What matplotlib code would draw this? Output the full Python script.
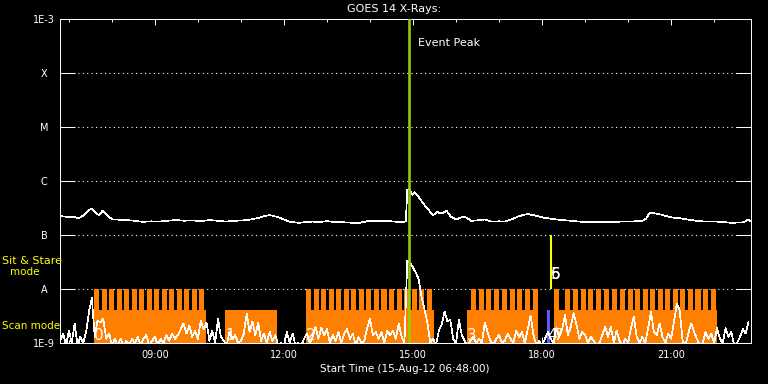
import datetime as dt
import matplotlib
matplotlib.use("Agg")
import matplotlib.pyplot as plt
import matplotlib.dates as mdates
from matplotlib.ticker import NullLocator


def hm(s):
    h, m = s.split(":")
    return dt.datetime(2012, 8, 15, int(h), int(m))


t_start, t_end = "06:48", "22:51"

# GOES 14 long channel (1-8 A), W/m^2
long_times = ["06:48", "06:55", "07:01", "07:08", "07:14", "07:21", "07:27", "07:31", "07:35", "07:38",
              "07:42", "07:47", "07:51", "07:54", "08:01", "08:10", "08:20", "08:30", "08:43", "08:55",
              "09:06", "09:18", "09:29", "09:41", "09:53", "10:05", "10:16", "10:28", "10:39", "10:50",
              "11:02", "11:14", "11:26", "11:33", "11:40", "11:46", "11:53", "12:00", "12:08", "12:21",
              "12:30", "12:40", "12:50", "12:59", "13:10", "13:22", "13:33", "13:45", "13:52", "13:59",
              "14:10", "14:22", "14:34", "14:46", "14:50", "14:52", "14:55", "14:57", "14:59", "15:02",
              "15:06", "15:11", "15:16", "15:20", "15:25", "15:28", "15:31", "15:34", "15:37", "15:41",
              "15:44", "15:47", "15:50", "15:53", "16:00", "16:06", "16:12", "16:16", "16:21", "16:30",
              "16:40", "16:49", "17:00", "17:08", "17:17", "17:26", "17:33", "17:40", "17:47", "17:54",
              "18:03", "18:13", "18:27", "18:41", "18:52", "19:04", "19:16", "19:27", "19:38", "19:50",
              "20:02", "20:14", "20:20", "20:25", "20:29", "20:32", "20:39", "20:46", "20:53", "21:00",
              "21:12", "21:23", "21:35", "21:47", "21:58", "22:10", "22:24", "22:35", "22:42", "22:46",
              "22:50"]
long_flux = [2.25e-7, 2.2e-7, 2.13e-7, 2.15e-7, 2.07e-7, 2.35e-7, 2.8e-7, 3.1e-7, 2.8e-7, 2.52e-7,
             2.35e-7, 2.82e-7, 2.5e-7, 2.25e-7, 1.95e-7, 1.93e-7, 1.9e-7, 1.85e-7, 1.76e-7, 1.8e-7,
             1.78e-7, 1.85e-7, 1.9e-7, 1.85e-7, 1.87e-7, 1.82e-7, 1.9e-7, 1.84e-7, 1.78e-7, 1.84e-7,
             1.87e-7, 1.95e-7, 2.1e-7, 2.25e-7, 2.35e-7, 2.25e-7, 2.13e-7, 1.95e-7, 1.76e-7, 1.69e-7,
             1.74e-7, 1.78e-7, 1.75e-7, 1.81e-7, 1.76e-7, 1.73e-7, 1.7e-7, 1.69e-7, 1.76e-7, 1.84e-7,
             1.82e-7, 1.84e-7, 1.78e-7, 1.73e-7, 1.8e-7, 7.0e-7, 7.1e-7, 6.4e-7, 5.6e-7, 6.3e-7,
             5.5e-7, 4.45e-7, 3.6e-7, 3.1e-7, 2.6e-7, 2.35e-7, 2.5e-7, 2.7e-7, 2.55e-7, 2.52e-7,
             2.7e-7, 2.82e-7, 2.45e-7, 2.19e-7, 1.95e-7, 2.1e-7, 2.19e-7, 2.05e-7, 1.84e-7, 1.88e-7,
             1.95e-7, 1.78e-7, 1.8e-7, 1.78e-7, 1.95e-7, 2.19e-7, 2.35e-7, 2.45e-7, 2.35e-7, 2.25e-7,
             2.1e-7, 2.0e-7, 1.9e-7, 1.84e-7, 1.78e-7, 1.73e-7, 1.75e-7, 1.76e-7, 1.75e-7, 1.78e-7,
             1.78e-7, 1.81e-7, 1.85e-7, 2.0e-7, 2.45e-7, 2.6e-7, 2.5e-7, 2.4e-7, 2.25e-7, 2.13e-7,
             2.05e-7, 1.95e-7, 1.85e-7, 1.78e-7, 1.79e-7, 1.76e-7, 1.69e-7, 1.71e-7, 1.73e-7, 1.95e-7,
             1.85e-7]

# short channel (0.5-4 A), one value every 4 minutes from 06:48, in units of 1e-9 W/m^2
short_step = 4
short_flux = [1.1, 1.5, 0.9, 1.7, 1.0, 2.3, 0.9, 1.3, 1.0, 1.6,
              3.8, 6.8, 1.3, 2.6, 2.4, 2.8, 1.2, 1.5, 0.9, 1.2,
              0.9, 1.2, 0.9, 1.1, 0.9, 1.2, 1.0, 1.3, 0.9, 1.2,
              1.4, 0.9, 1.1, 1.3, 0.9, 1.2, 1.0, 1.4, 1.1, 1.5,
              1.2, 1.4, 1.8, 2.3, 1.5, 2.1, 1.3, 1.7, 1.2, 2.6,
              1.8, 2.4, 1.1, 1.7, 1.0, 2.8, 1.3, 1.1, 0.9, 1.6,
              1.2, 1.4, 1.0, 1.1, 1.5, 3.5, 1.6, 2.5, 1.4, 2.4,
              1.1, 1.5, 1.0, 1.6, 1.1, 1.4, 0.9, 1.0, 0.9, 1.6,
              1.0, 1.5, 0.9, 1.0, 0.9, 1.2, 1.5, 1.0, 1.3, 2.0,
              1.2, 1.9, 1.4, 1.8, 1.0, 1.4, 1.1, 1.6, 1.0, 1.5,
              1.8, 1.2, 1.5, 0.9, 1.3, 1.0, 1.1, 1.9, 2.8, 1.4,
              1.6, 1.2, 1.6, 1.0, 1.7, 1.4, 1.7, 1.2, 2.3, 1.3,
              1.0, 34, 30, 25, 20, 15, 7.0, 4.2, 2.4, 1.0,
              1.2, 0.9, 1.7, 2.2, 3.8, 2.5, 2.7, 1.2, 1.0, 2.7,
              1.4, 1.1, 0.9, 1.1, 1.3, 1.0, 1.2, 1.0, 2.4, 1.6,
              1.1, 0.9, 1.2, 1.4, 1.0, 1.1, 1.5, 1.2, 1.0, 1.7,
              1.3, 1.6, 1.0, 1.8, 3.2, 1.4, 0.9, 1.1, 0.9, 1.2,
              1.6, 1.2, 1.0, 1.9, 1.3, 1.8, 3.3, 1.4, 2.0, 3.6,
              2.2, 1.2, 1.6, 1.4, 1.0, 1.3, 1.1, 0.9, 1.0, 1.4,
              2.0, 1.3, 2.0, 1.0, 1.7, 1.1, 0.9, 1.2, 1.0, 1.9,
              3.1, 1.3, 1.0, 1.3, 1.0, 1.9, 3.8, 1.6, 1.4, 2.3,
              1.3, 1.0, 1.5, 1.2, 2.5, 5.3, 4.0, 1.1, 0.9, 1.5,
              2.3, 1.6, 1.2, 0.9, 1.0, 1.6, 1.2, 1.5, 1.0, 1.9,
              1.2, 1.0, 1.9, 1.3, 1.6, 0.9, 1.0, 1.3, 1.8, 1.5,
              2.5]

# observing plan
scan_start = ["07:35", "10:38", "12:31", "16:15", "18:16"]
scan_end = ["10:11", "11:50", "15:29", "17:54", "22:04"]

rasters_0 = ["07:35", "07:46", "07:56", "08:07", "08:17", "08:28", "08:38", "08:49", "08:59", "09:10",
             "09:20", "09:31", "09:41", "09:52", "10:02"]
rasters_2 = ["12:31", "12:42", "12:52", "13:03", "13:13", "13:24", "13:34", "13:45", "13:55", "14:06",
             "14:16", "14:27", "14:37", "14:48", "14:58", "15:09", "15:19"]
rasters_3 = ["16:21", "16:32", "16:42", "16:53", "17:04", "17:15", "17:25", "17:36", "17:47"]
rasters_4 = ["18:16", "18:32", "18:43", "18:54", "19:04", "19:15", "19:27", "19:38", "19:49", "20:00",
             "20:10", "20:21", "20:31", "20:42", "20:52", "21:03", "21:13", "21:23", "21:34", "21:44",
             "21:55"]
raster_lists = [rasters_0, rasters_2, rasters_3, rasters_4]
raster_block = [0, 2, 3, 4]
raster_minutes = 7

blue_start, blue_end = "18:07", "18:11"
stare_time = "18:12"
peak_time = "14:54"

obs_ids = ["0", "1", "2", "3", "4", "5", "6", "7"]
obs_times = ["07:35", "10:38", "12:31", "16:15", "18:07", "18:12", "18:12", "18:16"]
obs_stare = [False, False, False, False, False, True, True, False]

ytick_vals = [1e-9, 1e-8, 1e-7, 1e-6, 1e-5, 1e-4, 1e-3]
ytick_text = ["1E-9", "A", "B", "C", "M", "X", "1E-3"]

ORANGE = "#ff8000"
scan_top = 4.1e-9   # top of the orange scan band
bottom, top = 1e-9, 1e-3

fig = plt.figure(figsize=(7.68, 3.84), dpi=100, facecolor="black")
ax = fig.add_axes([60.3 / 768, 1 - 343 / 384, 690.4 / 768, 323.7 / 384])
ax.set_facecolor("black")
ax.set_yscale("log")
ax.set_ylim(bottom, top)
ax.set_xlim(hm(t_start), hm(t_end))
ax.set_axisbelow(True)

# orange scan blocks and raster teeth
for s, e in zip(scan_start, scan_end):
    ax.fill_between([hm(s), hm(e)], bottom, scan_top, color=ORANGE, lw=0, antialiased=False, zorder=1)
for lst, b in zip(raster_lists, raster_block):
    end_b = hm(scan_end[b])
    for s in lst:
        t0 = hm(s)
        t1 = min(t0 + dt.timedelta(minutes=raster_minutes), end_b)
        ax.fill_between([t0, t1], bottom, 1e-8, color=ORANGE, lw=0, antialiased=False, zorder=1)

ax.fill_between([hm(blue_start), hm(blue_end)], bottom, scan_top, color="#5a5aff", lw=0,
                antialiased=False, zorder=1)
ax.vlines(hm(stare_time), 1e-8, 1e-7, color="#ffff00", lw=1.5, zorder=2)

# flux curves
ax.plot([hm(s) for s in long_times], long_flux, color="white", lw=0.5, antialiased=False, zorder=2)
short_t = [hm(t_start) + dt.timedelta(minutes=short_step * i) for i in range(len(short_flux))]
ax.plot(short_t, [v * 1e-9 for v in short_flux], color="white", lw=0.5, antialiased=False, zorder=2)

ax.axvline(hm(peak_time), color="#99cc00", lw=1.9, zorder=4)
ax.annotate("Event Peak", xy=(hm(peak_time), 1), xycoords=("data", "axes fraction"),
            xytext=(7, -17), textcoords="offset points", va="center", ha="left",
            color="white", fontsize=8)

for lab, ts, st in zip(obs_ids, obs_times, obs_stare):
    ax.text(hm(ts), 1.51e-8 if st else 1.16e-9, lab, color="white", fontsize=11,
            ha="left", va="baseline", zorder=3)

# axes styling
for sp in ax.spines.values():
    sp.set_color("white")
    sp.set_linewidth(0.7)

ax.set_yticks(ytick_vals)
ax.set_yticklabels(ytick_text, ha="center")
ax.yaxis.set_minor_locator(NullLocator())
ax.tick_params(axis="y", which="major", direction="in", length=10.6, width=0.7, left=True,
               right=True, colors="white", labelsize=7, pad=11.7)
ax.yaxis.grid(True, which="major", color="white", lw=0.8, ls=(0, (1, 3)))

ax.xaxis.set_major_locator(mdates.HourLocator(byhour=[9, 12, 15, 18, 21]))
ax.xaxis.set_minor_locator(mdates.HourLocator())
ax.xaxis.set_major_formatter(mdates.DateFormatter("%H:%M"))
ax.tick_params(axis="x", which="major", direction="in", length=4.1, width=0.7, top=True,
               bottom=True, colors="white", labelsize=7, pad=5)
ax.tick_params(axis="x", which="minor", direction="in", length=2.4, width=0.7, top=True,
               bottom=True, colors="white")

fig.text(394 / 768, 1 - 9.5 / 384, "GOES 14 X-Rays:", color="white", fontsize=8,
         ha="center", va="center")
fig.text(404.5 / 768, 1 - 368.5 / 384, "Start Time (15-Aug-12 06:48:00)", color="white",
         fontsize=7.5, ha="center", va="center")
fig.text(2 / 768, 1 - 263.7 / 384, "Sit & Stare", color="#ffff00", fontsize=8, va="baseline")
fig.text(24.5 / 768, 1 - 275.3 / 384, "mode", color="#ffff00", fontsize=7.5, ha="center",
         va="baseline")
fig.text(2 / 768, 1 - 328.7 / 384, "Scan mode", color="#ffff00", fontsize=7.5, va="baseline")

fig.savefig("out.png", dpi=100, facecolor="black")
